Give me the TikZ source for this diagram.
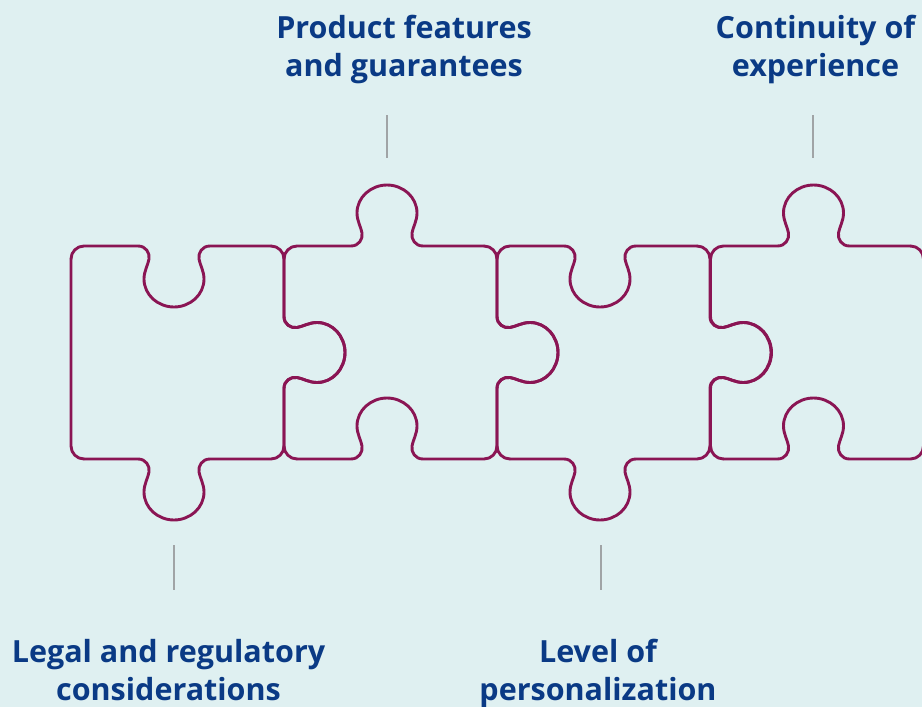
\documentclass[tikz,border=0pt]{standalone}
\usepackage{fontspec}
\setmainfont{Open Sans}
\usetikzlibrary{positioning}

\definecolor{bgcyan}{HTML}{DFF0F1}
\definecolor{mberry}{HTML}{8A1554}
\definecolor{mnavy}{HTML}{0A3A85}
\definecolor{mgray}{HTML}{A0A4A6}

\tikzset{piece/.style = {draw = mberry, line width = 2.9pt, line cap = round, line join = round}}
\tikzset{tick/.style = {draw = mgray, line width = 2pt}}
\tikzset{lbl/.style = {text = mnavy, font = \fontsize{30.5}{38.5}\selectfont\bfseries, align = center, inner sep = 0, anchor = base}}

\newcommand{\halfw}{106.5}
\newcommand{\crad}{13}

% one side of a piece, drawn as the top side and turned into place
% #1 angle, #2 knob (1 out, -1 in, 0 none), #3 knob shift along the side
\newcommand{\pieceside}[3]{%
  \begin{scope}[rotate=#1]
    \ifnum#2=0
      \draw [piece] (-\halfw, {-\halfw+\crad}) arc [start angle=180, end angle=270, radius=\crad]
        -- ({\halfw-\crad}, -\halfw);
    \else
      \draw [piece] (-\halfw, {-\halfw+\crad}) arc [start angle=180, end angle=270, radius=\crad]
        -- ({#3-36}, -\halfw)
        .. controls ({#3-28}, -\halfw) and ({#3-24}, {-\halfw-(#2)*7}) .. ({#3-25}, {-\halfw-(#2)*13})
        .. controls ({#3-26}, {-\halfw-(#2)*19}) and ({#3-30}, {-\halfw-(#2)*25}) .. ({#3-30}, {-\halfw-(#2)*33})
        .. controls ({#3-30}, {-\halfw-(#2)*49}) and ({#3-16}, {-\halfw-(#2)*61}) .. (#3, {-\halfw-(#2)*61})
        .. controls ({#3+16}, {-\halfw-(#2)*61}) and ({#3+30}, {-\halfw-(#2)*49}) .. ({#3+30}, {-\halfw-(#2)*33})
        .. controls ({#3+30}, {-\halfw-(#2)*25}) and ({#3+26}, {-\halfw-(#2)*19}) .. ({#3+25}, {-\halfw-(#2)*13})
        .. controls ({#3+24}, {-\halfw-(#2)*7}) and ({#3+28}, -\halfw) .. ({#3+36}, -\halfw)
        -- ({\halfw-\crad}, -\halfw);
    \fi
  \end{scope}}

% #1 centre, then knobs on top, right, bottom, left
\newcommand{\piece}[5]{%
  \begin{scope}[shift={#1}]
    \pieceside{0}{#2}{-3.5}
    \pieceside{-90}{#3}{0}
    \pieceside{-180}{#4}{3.5}
    \pieceside{-270}{#5}{0}
  \end{scope}}

\begin{document}
\begin{tikzpicture}[x=1pt, y=-1pt]
  \useasboundingbox (0, 0) rectangle (922, 707);
  \clip (0, 0) rectangle (922, 707);
  \fill [bgcyan] (0, 0) rectangle (922, 707);

  % the four pieces
  \piece{(177.5, 352.5)}{-1}{1}{1}{0}
  \piece{(390.5, 352.5)}{1}{1}{-1}{-1}
  \piece{(603.5, 352.5)}{-1}{1}{1}{-1}
  \piece{(817, 352.5)}{1}{0}{-1}{-1}

  % labels, placed by the baseline of their last line
  \node [lbl] (features) at (404, 76.5) {Product features\\and guarantees};
  \node [lbl] (continuity) at (815.5, 76.5) {Continuity of\\experience};
  \node [lbl] (legal) at (168.5, 700.5) {Legal and regulatory\\considerations};
  \node [lbl] (personal) at (598, 700.5) {Level of\\personalization};

  \draw [tick] (387, 115) -- (387, 158);
  \draw [tick] (813, 115) -- (813, 158);
  \draw [tick] (173.5, 545) -- (173.5, 590);
  \draw [tick] (601, 545) -- (601, 590);
\end{tikzpicture}
\end{document}
